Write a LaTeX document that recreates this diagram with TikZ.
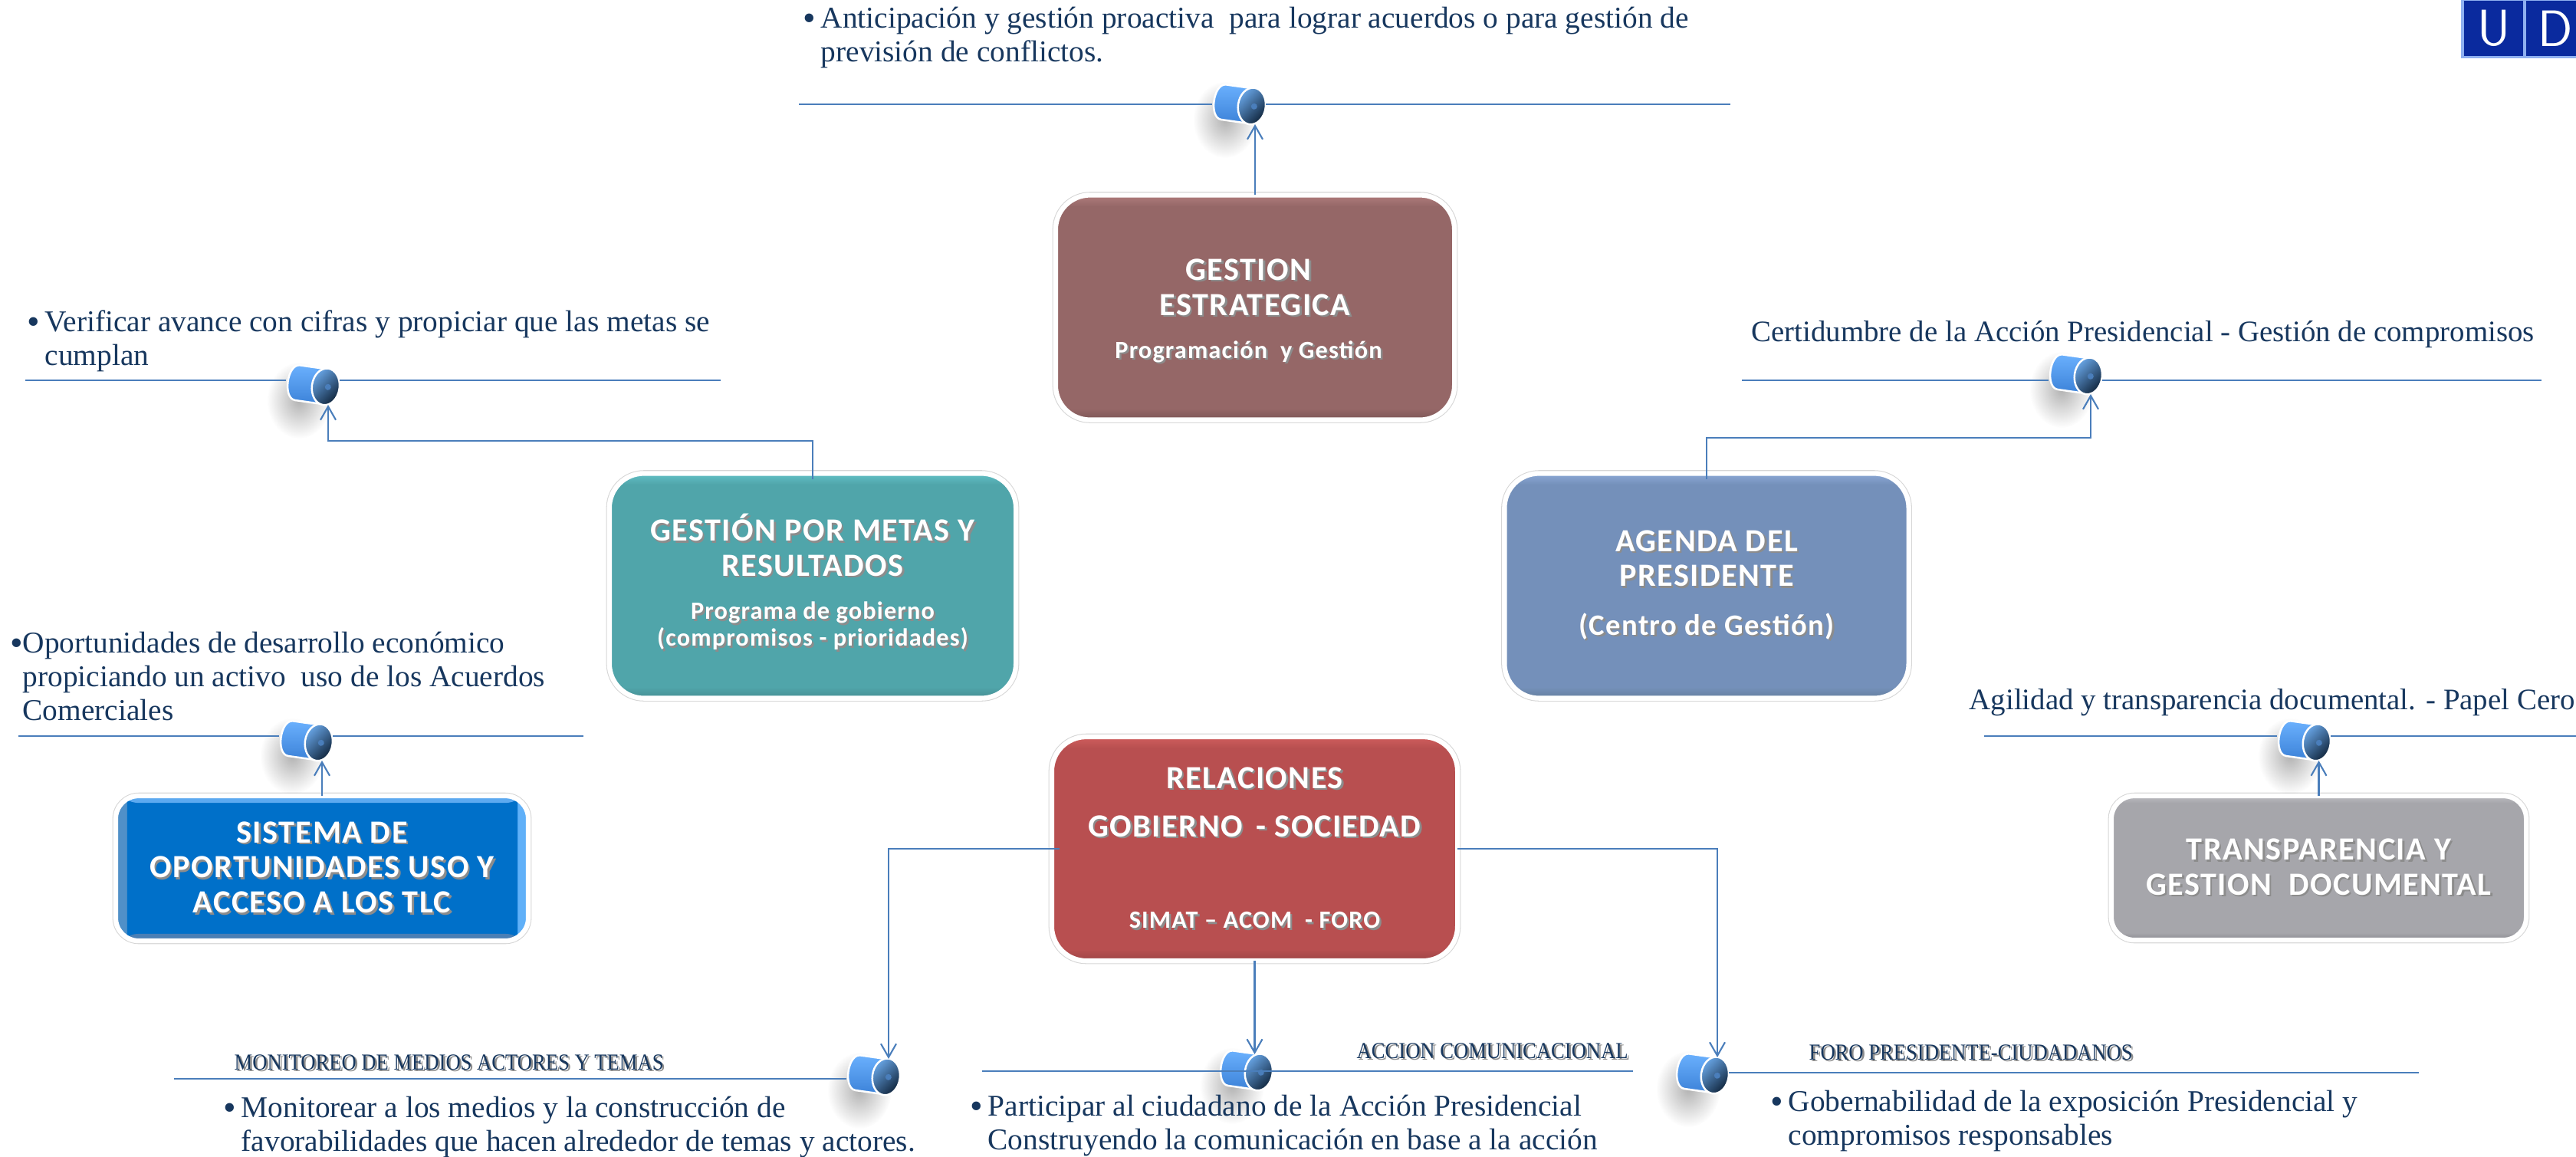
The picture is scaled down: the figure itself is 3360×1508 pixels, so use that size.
\documentclass[tikz,border=0pt]{standalone}
\usepackage{fontspec}
\usetikzlibrary{positioning,arrows.meta,fadings}
\setmainfont{Liberation Serif}
\newfontfamily\panelfont{Carlito}[LetterSpace=3.5]
\newfontfamily\headfont{Liberation Serif}[FakeStretch=.89]

\definecolor{ink}{HTML}{17375E}
\definecolor{linkblue}{HTML}{4A7EBB}
\definecolor{udblue}{HTML}{0A2A9E}
\definecolor{udedge}{HTML}{8FB0F0}
\definecolor{knobtop}{HTML}{6CB2FF}
\definecolor{knoblow}{HTML}{3C82D8}
\definecolor{facetop}{HTML}{6AA8EA}
\definecolor{facelow}{HTML}{0E2238}

% panel colour: name, base, top edge, bottom edge
\newcommand{\panelcolor}[4]{%
  \definecolor{#1}{HTML}{#2}\definecolor{#1top}{HTML}{#3}\definecolor{#1low}{HTML}{#4}%
  \pgfdeclareverticalshading{#1shade}{100bp}{color(0bp)=(#1low); color(25bp)=(#1low); color(27.5bp)=(#1); color(72.5bp)=(#1); color(75bp)=(#1top); color(100bp)=(#1top)}}
\panelcolor{gest}{956767}{B07C7C}{7C5656}
\panelcolor{metas}{50A5AA}{62C0C6}{468F94}
\panelcolor{agen}{7490BA}{8CA9D6}{66809F}
\panelcolor{rela}{B84F50}{D05E5E}{9C4546}
\panelcolor{tran}{A6A6AB}{BDBDC2}{8A8A90}
\definecolor{sisbase}{HTML}{0070C9}
\definecolor{sisleft}{HTML}{5090C8}
\definecolor{sisright}{HTML}{60B0F8}
\definecolor{sistop}{HTML}{5DAAF0}
\definecolor{sislow}{HTML}{4A7FB5}
\pgfdeclarehorizontalshading{sisshade}{100bp}{color(0bp)=(sisleft); color(26.3bp)=(sisleft); color(26.4bp)=(sisbase); color(73.6bp)=(sisbase); color(73.7bp)=(sisright); color(100bp)=(sisright)}

\tikzfading[name=knobglow, inner color=transparent!70, outer color=transparent!100]

\tikzset{
  panel/.style={shape=rectangle, shading=#1shade, draw=white, line width=1.8pt, rounded corners=.45cm,
    preaction={draw=black!16, line width=2.4pt}, inner sep=0pt, outer sep=0pt, align=center, text=white,
    font=\panelfont\bfseries\fontsize{12}{13}\selectfont},
  link/.style={draw=linkblue, line width=.6pt, -{Straight Barb[length=5pt,width=5.7pt]}},
  rule/.style={draw=linkblue, line width=.6pt},
  note/.style={anchor=north west, inner sep=0pt, align=left, text=ink, font=\fontsize{11.2}{12.5}\selectfont,
    execute at begin node=\rule{0pt}{8pt}},
  shortnote/.style={note, font=\fontsize{11.05}{12.5}\selectfont},
  heading/.style={anchor=base west, inner sep=0pt, text=ink, font=\headfont\fontsize{8.5}{10}\selectfont},
  knobnode/.style={shape=rectangle, inner sep=0pt, outer sep=0pt, minimum width=.7cm, minimum height=.52cm},
  udcell/.style={shape=rectangle, fill=udblue, draw=udedge, line width=1pt, text=white, inner sep=0pt,
    minimum width=.81cm, minimum height=.75cm, font=\sffamily\fontsize{19}{19}\selectfont},
}

% text with a small shadow
\newcommand{\shd}[1]{\leavevmode\rlap{\hspace{.7pt}\raisebox{-.7pt}{\textcolor{black!45}{#1}}}#1}
\newcommand{\subline}{\fontsize{9.2}{10}\selectfont}
\newcommand{\bigdot}{{\fontsize{13.5}{13.5}\selectfont\raisebox{-.9pt}{\textbullet}}}
\newcommand{\bul}{\llap{\bigdot\hspace{2pt}}}

% cylinder: name, x, y
\newcommand{\knob}[3]{%
  \fill[black, path fading=knobglow] (#2-18,#3+20) ellipse [x radius=42, y radius=50];
  \begin{scope}[shift={(#2,#3)}, rotate=-8]
    \shade[top color=knobtop, bottom color=knoblow, draw=white, line width=.7pt]
      (17,-23) -- (-20,-23) .. controls (-37,-23) and (-37,23) .. (-20,23) -- (17,23) -- cycle;
    \shade[top color=facetop, bottom color=facelow, shading angle=45, draw=white, line width=.7pt]
      (17,0) ellipse [x radius=18, y radius=24];
    \fill[linkblue] (20,0) circle [radius=4];
  \end{scope}
  \node (#1) [knobnode] at (#2,#3) {};
  \coordinate (#1t) at (#2+20,#3-21);
  \coordinate (#1b) at (#2+20,#3+26);
}

\begin{document}
\begin{tikzpicture}[x=.01cm, y=-.01cm]
  \useasboundingbox (0,0) rectangle (3360,1508);

  % logo
  \node (udu) [udcell] at (3252.5,37) {U};
  \node (udd) [udcell] at (3333.5,37) {D};

  % panels
  \node (gest) [panel=gest, minimum width=5.2cm, minimum height=2.93cm] at (1637,401)
    {\rule{0pt}{11pt}\shd{GESTION}\hspace*{4.8pt}\\ \shd{ESTRATEGICA}\hspace*{4.8pt}\\[3pt] \subline\shd{Programación\ \ y Gestión}\hspace*{4.8pt}};
  \node (metas) [panel=metas, minimum width=5.3cm, minimum height=2.93cm] at (1060,764)
    {\shd{GESTIÓN POR METAS Y}\\ \shd{RESULTADOS}\\[3pt] \subline\shd{Programa de gobierno}\\[-3pt] \subline\shd{(compromisos - prioridades)}\rule[-4.3pt]{0pt}{0pt}};
  \node (agen) [panel=agen, minimum width=5.27cm, minimum height=2.93cm] at (2226,764)
    {\shd{AGENDA DEL}\\ \shd{PRESIDENTE}\\[5pt] \fontsize{11}{12}\selectfont\shd{(Centro de Gestión)}};
  \node (rela) [panel=rela, minimum width=5.29cm, minimum height=2.92cm] at (1636.5,1107)
    {\shd{RELACIONES}\\[5pt] \shd{GOBIERNO\ \,- SOCIEDAD}\\[21pt] \subline\shd{SIMAT – ACOM\ \ - FORO}};
  \node (sis) [panel=sis, shading=sisshade, rounded corners=.3cm, minimum width=5.38cm, minimum height=1.89cm,
    path picture={\fill[sistop] (path picture bounding box.north west) rectangle ([yshift=-2.6pt]path picture bounding box.north east);
      \fill[sislow] (path picture bounding box.south west) rectangle ([yshift=2.6pt]path picture bounding box.south east);}] at (420,1132.5)
    {\shd{SISTEMA DE}\\ \shd{OPORTUNIDADES USO Y}\\ \shd{ACCESO A LOS TLC}};
  \node (tran) [panel=tran, rounded corners=.3cm, minimum width=5.41cm, minimum height=1.88cm] at (3024.5,1132)
    {\shd{TRANSPARENCIA Y}\\ \shd{GESTION\ \ DOCUMENTAL}};

  % cylinders
  \knob{topk}{1616}{136}
  \knob{verk}{408}{502}
  \knob{opok}{399}{966}
  \knob{agek}{2707}{488}
  \knob{trak}{3005}{966}
  \knob{monk}{1139}{1402}
  \knob{acck}{1625}{1396}
  \knob{fork}{2220}{1400}

  % rule ends
  \coordinate (topl) at (1042,136);  \coordinate (topr) at (2257,136);
  \coordinate (verl) at (33,496);    \coordinate (verr) at (940,496);
  \coordinate (opol) at (24,960);    \coordinate (opor) at (761,960);
  \coordinate (agel) at (2272,496);  \coordinate (ager) at (3315,496);
  \coordinate (tral) at (2588,960);  \coordinate (trar) at (3360,960);
  \coordinate (monl) at (227,1407);
  \coordinate (accl) at (1281,1397); \coordinate (accr) at (2130,1397);
  \coordinate (forr) at (3155,1399);

  \draw[rule] (topl) -- (topl -| topk.west);
  \draw[rule] (topr -| topk.east) -- (topr);
  \draw[rule] (verl) -- (verl -| verk.west);
  \draw[rule] (verr -| verk.east) -- (verr);
  \draw[rule] (opol) -- (opol -| opok.west);
  \draw[rule] (opor -| opok.east) -- (opor);
  \draw[rule] (agel) -- (agel -| agek.west);
  \draw[rule] (ager -| agek.east) -- (ager);
  \draw[rule] (tral) -- (tral -| trak.west);
  \draw[rule] (trar -| trak.east) -- (trar);
  \draw[rule] (monl) -- (monl -| monk.west);
  \draw[rule] (accl) -- (accr);
  \draw[rule] (forr -| fork.east) -- (forr);

  % connectors
  \draw[link] (gest.north) -- (gest.north |- topkb);
  \draw[link] ([yshift=-2.2pt]metas.north) -- ++(0,-50) -| (verkb);
  \draw[link] ([yshift=-2.2pt]agen.north) -- ++(0,-54) -| (agekb);
  \draw[link] (sis.north) -- (sis.north |- opokb);
  \draw[link] (tran.north) -- (tran.north |- trakb);
  \draw[link] ([xshift=3pt]rela.west) -| (monkt);
  \draw[link] (rela.south) -- (rela.south |- acckt);
  \draw[link] (rela.east) -| (forkt);

  % notes
  \node (topn) [note] at (1070,8) {\bul Anticipación y gestión proactiva\ \ para lograr acuerdos o para gestión de\\ previsión de conflictos.};
  \node (vern) [note] at (58,404) {\bul Verificar avance con cifras y propiciar que las metas se\\ cumplan};
  \node (opon) [note] at (29,823) {\llap{\bigdot}Oportunidades de desarrollo económico\\ propiciando un activo\ \ uso de los Acuerdos\\ Comerciales};
  \node (agen2) [shortnote] at (2284,417) {Certidumbre de la Acción Presidencial - Gestión de compromisos};
  \node (tran2) [shortnote] at (2568,897) {Agilidad y transparencia documental. - Papel Cero};
  \node (monn) [note] at (314,1429) {\bul Monitorear a los medios y la construcción de\\ favorabilidades que hacen alrededor de temas y actores.};
  \node (accn) [note] at (1288,1427) {\bul Participar al ciudadano de la Acción Presidencial\\ Construyendo la comunicación en base a la acción};
  \node (forn) [note] at (2332,1421) {\bul Gobernabilidad de la exposición Presidencial y\\ compromisos responsables};

  % headings
  \node (monh) [heading] at (305,1395) {\shd{MONITOREO DE MEDIOS ACTORES Y TEMAS}};
  \node (acch) [heading] at (1769,1380) {\shd{ACCION COMUNICACIONAL}};
  \node (forh) [heading] at (2359,1382) {\shd{FORO PRESIDENTE-CIUDADANOS}};
\end{tikzpicture}
\end{document}
